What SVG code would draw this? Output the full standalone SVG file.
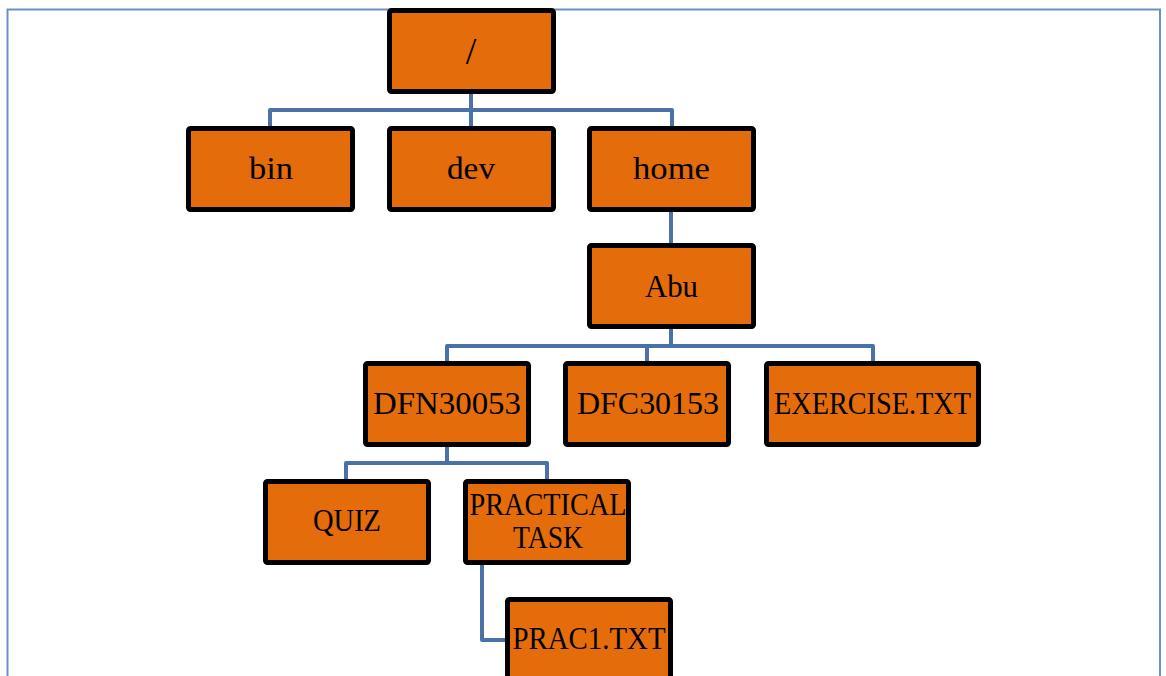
<svg xmlns="http://www.w3.org/2000/svg" width="1166" height="676" viewBox="0 0 1166 676">
<style>
.box{fill:#E46C0A;stroke:#000;stroke-width:5}
.lbl{font-family:"Liberation Serif","DejaVu Serif",serif;font-size:32px;fill:#000;text-anchor:middle}
.con{fill:none;stroke:#4A72A8;stroke-width:4;stroke-linejoin:round}
</style>
<rect x="7.5" y="9.5" width="1152.5" height="700" fill="#fff" stroke="#6B8FC9" stroke-width="2"/>
<g id="connectors">
<path class="con" d="M471 94V110M270 126V110H672V126M471 110V126"/>
<path class="con" d="M671 212V243"/>
<path class="con" d="M671 329V346M447 361V346H873V361M647 346V361"/>
<path class="con" d="M447 447V463M346 479V463H547V479"/>
<path class="con" d="M482 565V640H505"/>
</g>
<g id="root"><rect class="box" x="389.5" y="10.5" width="164" height="81" rx="2"/><text class="lbl" x="471" y="64" style="font-size:38px">/</text></g>
<g id="bin"><rect class="box" x="188.5" y="128.5" width="164" height="81" rx="2"/><text class="lbl" x="271" y="179" textLength="44" lengthAdjust="spacingAndGlyphs">bin</text></g>
<g id="dev"><rect class="box" x="389.5" y="128.5" width="164" height="81" rx="2"/><text class="lbl" x="471" y="179" textLength="48" lengthAdjust="spacingAndGlyphs">dev</text></g>
<g id="home"><rect class="box" x="589.5" y="128.5" width="164" height="81" rx="2"/><text class="lbl" x="671.5" y="179" textLength="77" lengthAdjust="spacingAndGlyphs">home</text></g>
<g id="abu"><rect class="box" x="589.5" y="245.5" width="164" height="81" rx="2"/><text class="lbl" x="671.5" y="297" textLength="53" lengthAdjust="spacingAndGlyphs">Abu</text></g>
<g id="dfn30053"><rect class="box" x="365.5" y="363.5" width="163" height="81" rx="2"/><text class="lbl" x="447" y="414" textLength="148" lengthAdjust="spacingAndGlyphs">DFN30053</text></g>
<g id="dfc30153"><rect class="box" x="565.5" y="363.5" width="163" height="81" rx="2"/><text class="lbl" x="648" y="414" textLength="142" lengthAdjust="spacingAndGlyphs">DFC30153</text></g>
<g id="exercise"><rect class="box" x="766.5" y="363.5" width="212" height="81" rx="2"/><text class="lbl" x="872.5" y="414" textLength="197" lengthAdjust="spacingAndGlyphs">EXERCISE.TXT</text></g>
<g id="quiz"><rect class="box" x="265.5" y="481.5" width="163" height="81" rx="2"/><text class="lbl" x="347" y="531" textLength="68" lengthAdjust="spacingAndGlyphs">QUIZ</text></g>
<g id="practical"><rect class="box" x="465.5" y="481.5" width="163" height="81" rx="2"/><text class="lbl" x="548" y="515" textLength="157" lengthAdjust="spacingAndGlyphs">PRACTICAL</text><text class="lbl" x="548" y="548" textLength="70" lengthAdjust="spacingAndGlyphs">TASK</text></g>
<g id="prac1"><rect class="box" x="507.5" y="599.5" width="163" height="81" rx="2"/><text class="lbl" x="589" y="649" textLength="153" lengthAdjust="spacingAndGlyphs">PRAC1.TXT</text></g>
</svg>
